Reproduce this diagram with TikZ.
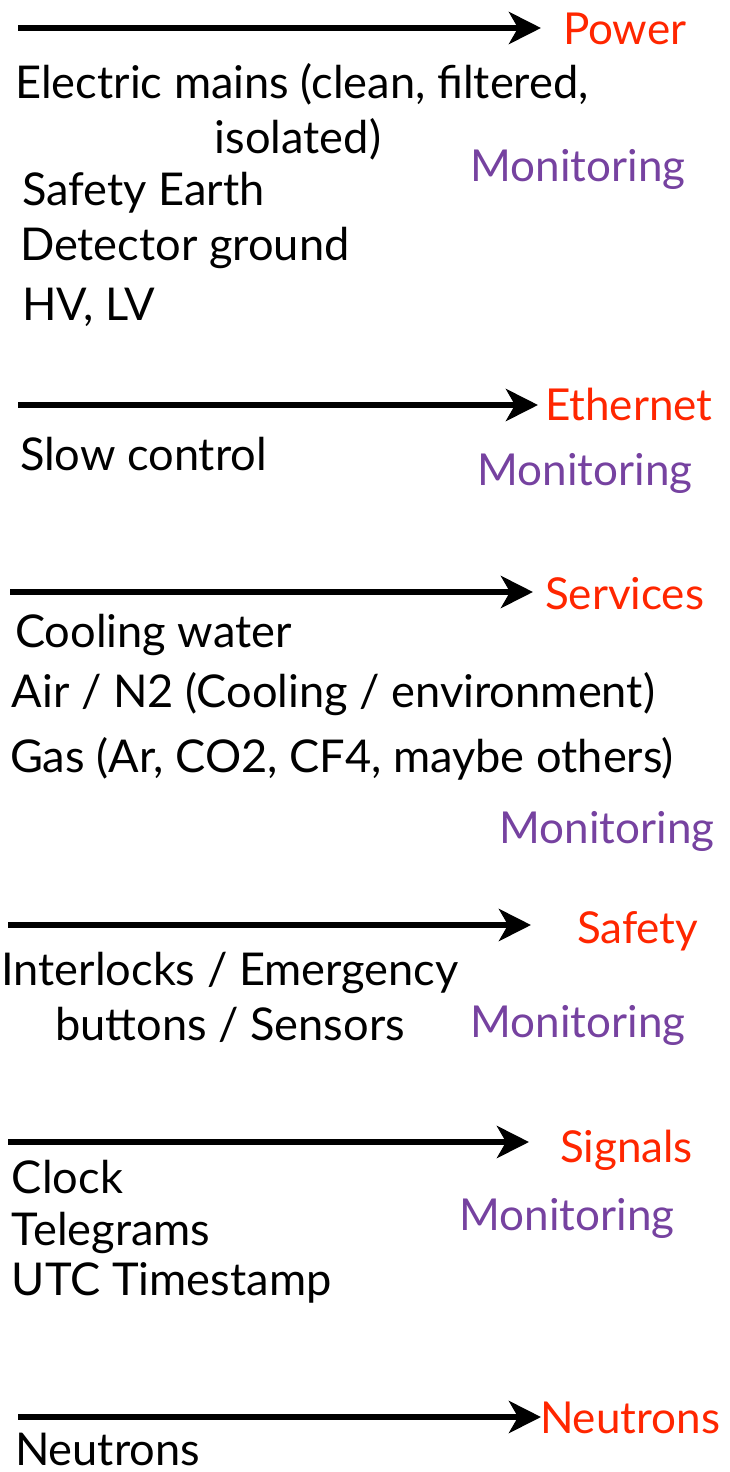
\documentclass[tikz,border=0pt]{standalone}
\usepackage{fontspec}
\setmainfont{Lato}
\usetikzlibrary{arrows.meta}
\definecolor{headred}{RGB}{255,38,0}
\definecolor{monpurple}{RGB}{118,66,160}
\tikzset{
  x=1pt, y=-1pt,
  lbl/.style={inner sep=0pt, outer sep=0pt, anchor=base west, font=\fontsize{45.2}{54}\selectfont},
  head/.style={lbl, text=headred, font=\fontsize{44}{53}\selectfont},
  mon/.style={lbl, anchor=base, text=monpurple, font=\fontsize{44}{53}\selectfont},
  flow/.style={line width=6.5pt, -{Stealth[length=32pt, width=32pt, inset=9pt]}},
}
\begin{document}
\begin{tikzpicture}
\useasboundingbox (0,0) rectangle (730,1472);

% Power
\coordinate (p0) at (18,28);
\coordinate (p1) at (541,28);
\node[head] (power) at (563,45) {Power};
\draw[flow] (p0) -- (p1);
\node[lbl, anchor=base] (mains) at (302,98) {Electric mains (clean, filtered,};
\node[lbl, anchor=base] (iso) at (298,153) {isolated)};
\node[mon] (mon1) at (578,181) {Monitoring};
\node[lbl] (earth) at (22,205) {Safety Earth};
\node[lbl] (dground) at (20,260) {Detector ground};
\node[lbl] (hvlv) at (22,320) {HV, LV};

% Ethernet
\coordinate (e0) at (18,405);
\coordinate (e1) at (538,405);
\node[head] (eth) at (545,420) {Ethernet};
\draw[flow] (e0) -- (e1);
\node[lbl] (slow) at (20,470) {Slow control};
\node[mon] (mon2) at (585,485) {Monitoring};

% Services
\coordinate (s0) at (10,592);
\coordinate (s1) at (533,592);
\node[head] (serv) at (545,609) {Services};
\draw[flow] (s0) -- (s1);
\node[lbl] (water) at (15,647) {Cooling water};
\node[lbl] (air) at (12,707) {Air / N2 (Cooling / environment)};
\node[lbl] (gas) at (10,772) {Gas (Ar, CO2, CF4, maybe others)};
\node[mon] (mon3) at (607,843) {Monitoring};

% Safety
\coordinate (f0) at (8,925);
\coordinate (f1) at (531,925);
\node[head] (safety) at (577,943) {Safety};
\draw[flow] (f0) -- (f1);
\node[lbl, anchor=base] (inter) at (230,985) {Interlocks / Emergency};
\node[lbl, anchor=base] (buttons) at (230,1040) {buttons / Sensors};
\node[mon] (mon4) at (578,1037) {Monitoring};

% Signals
\coordinate (g0) at (8,1142);
\coordinate (g1) at (529,1142);
\node[head] (sig) at (560,1162) {Signals};
\draw[flow] (g0) -- (g1);
\node[lbl] (clock) at (12,1193) {Clock};
\node[mon] (mon5) at (567,1230) {Monitoring};
\node[lbl] (tele) at (12,1245) {Telegrams};
\node[lbl] (utc) at (12,1295) {UTC Timestamp};

% Neutrons
\coordinate (n0) at (18,1417);
\coordinate (n1) at (541,1417);
\node[head] (neut) at (540,1433) {Neutrons};
\draw[flow] (n0) -- (n1);
\node[lbl] (neutb) at (15,1465) {Neutrons};
\end{tikzpicture}
\end{document}
